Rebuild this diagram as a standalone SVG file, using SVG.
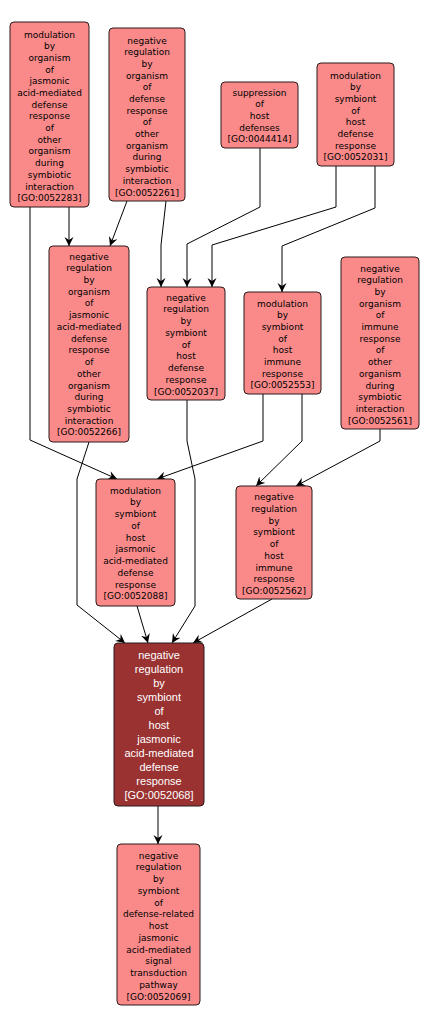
<svg xmlns="http://www.w3.org/2000/svg" width="428" height="1029" viewBox="0 0 428 1029">
<style>
.n rect{fill:#fa8a8a;stroke:#2a1a1a;stroke-width:1}
.n text{font-family:"DejaVu Sans",sans-serif;font-size:9px;fill:#000;text-anchor:middle}
.d rect{fill:#9a3232;stroke:#2a1a1a;stroke-width:1}
.d text{font-family:"Liberation Sans",Arial,sans-serif;font-size:11px;fill:#fff;text-anchor:middle}
#edges polyline{fill:none;stroke:#000;stroke-width:1;marker-end:url(#arr)}
</style>
<defs>
<marker id="arr" markerUnits="userSpaceOnUse" markerWidth="10" markerHeight="10" refX="9" refY="4.5" orient="auto">
<path d="M0,0 L9,4.5 L0,9 L3,4.5 z" fill="#000"/>
</marker>
</defs>
<rect width="428" height="1029" fill="#fff"/>
<g id="edges">
<polyline points="69,207 69,246"/>
<polyline points="30,207 30,440 117,479"/>
<polyline points="127,201 110,246"/>
<polyline points="166,201 161,245 161,287"/>
<polyline points="260,148 260,207 187,244 187,287"/>
<polyline points="336,166 336,207 212,245 212,287"/>
<polyline points="375,166 375,208 282,246 282,292"/>
<polyline points="89,442 77,479 77,605 125,643"/>
<polyline points="187,400 187,441 195,479 195,606 172,643"/>
<polyline points="263,394 263,441 157,479"/>
<polyline points="302,394 302,441 256,486"/>
<polyline points="380,429 380,441 296,486"/>
<polyline points="137,606 148,643"/>
<polyline points="272,599 193,643"/>
<polyline points="158,806 158,844"/>
</g>
<g id="GO0052283" class="n">
<rect x="10" y="22" width="79" height="185" rx="4"/>
<text y="37.5"><tspan x="49.5">modulation</tspan><tspan x="49.5" dy="11.7">by</tspan><tspan x="49.5" dy="11.7">organism</tspan><tspan x="49.5" dy="11.7">of</tspan><tspan x="49.5" dy="11.7">jasmonic</tspan><tspan x="49.5" dy="11.7">acid-mediated</tspan><tspan x="49.5" dy="11.7">defense</tspan><tspan x="49.5" dy="11.7">response</tspan><tspan x="49.5" dy="11.7">of</tspan><tspan x="49.5" dy="11.7">other</tspan><tspan x="49.5" dy="11.7">organism</tspan><tspan x="49.5" dy="11.7">during</tspan><tspan x="49.5" dy="11.7">symbiotic</tspan><tspan x="49.5" dy="11.7">interaction</tspan><tspan x="49.5" dy="11.7">[GO:0052283]</tspan></text>
</g>
<g id="GO0052261" class="n">
<rect x="109" y="28" width="76" height="173" rx="4"/>
<text y="43.5"><tspan x="147">negative</tspan><tspan x="147" dy="11.7">regulation</tspan><tspan x="147" dy="11.7">by</tspan><tspan x="147" dy="11.7">organism</tspan><tspan x="147" dy="11.7">of</tspan><tspan x="147" dy="11.7">defense</tspan><tspan x="147" dy="11.7">response</tspan><tspan x="147" dy="11.7">of</tspan><tspan x="147" dy="11.7">other</tspan><tspan x="147" dy="11.7">organism</tspan><tspan x="147" dy="11.7">during</tspan><tspan x="147" dy="11.7">symbiotic</tspan><tspan x="147" dy="11.7">interaction</tspan><tspan x="147" dy="11.7">[GO:0052261]</tspan></text>
</g>
<g id="GO0044414" class="n">
<rect x="221" y="82" width="77" height="66" rx="4"/>
<text y="95.5"><tspan x="259.5">suppression</tspan><tspan x="259.5" dy="11.7">of</tspan><tspan x="259.5" dy="11.7">host</tspan><tspan x="259.5" dy="11.7">defenses</tspan><tspan x="259.5" dy="11.7">[GO:0044414]</tspan></text>
</g>
<g id="GO0052031" class="n">
<rect x="317" y="63" width="77" height="103" rx="4"/>
<text y="78.5"><tspan x="355.5">modulation</tspan><tspan x="355.5" dy="11.7">by</tspan><tspan x="355.5" dy="11.7">symbiont</tspan><tspan x="355.5" dy="11.7">of</tspan><tspan x="355.5" dy="11.7">host</tspan><tspan x="355.5" dy="11.7">defense</tspan><tspan x="355.5" dy="11.7">response</tspan><tspan x="355.5" dy="11.7">[GO:0052031]</tspan></text>
</g>
<g id="GO0052266" class="n">
<rect x="49" y="246" width="80" height="196" rx="4"/>
<text y="259.5"><tspan x="89">negative</tspan><tspan x="89" dy="11.73">regulation</tspan><tspan x="89" dy="11.73">by</tspan><tspan x="89" dy="11.73">organism</tspan><tspan x="89" dy="11.73">of</tspan><tspan x="89" dy="11.73">jasmonic</tspan><tspan x="89" dy="11.73">acid-mediated</tspan><tspan x="89" dy="11.73">defense</tspan><tspan x="89" dy="11.73">response</tspan><tspan x="89" dy="11.73">of</tspan><tspan x="89" dy="11.73">other</tspan><tspan x="89" dy="11.73">organism</tspan><tspan x="89" dy="11.73">during</tspan><tspan x="89" dy="11.73">symbiotic</tspan><tspan x="89" dy="11.73">interaction</tspan><tspan x="89" dy="11.73">[GO:0052266]</tspan></text>
</g>
<g id="GO0052037" class="n">
<rect x="147" y="287" width="78" height="113" rx="4"/>
<text y="300.5"><tspan x="186">negative</tspan><tspan x="186" dy="11.75">regulation</tspan><tspan x="186" dy="11.75">by</tspan><tspan x="186" dy="11.75">symbiont</tspan><tspan x="186" dy="11.75">of</tspan><tspan x="186" dy="11.75">host</tspan><tspan x="186" dy="11.75">defense</tspan><tspan x="186" dy="11.75">response</tspan><tspan x="186" dy="11.75">[GO:0052037]</tspan></text>
</g>
<g id="GO0052553" class="n">
<rect x="244" y="292" width="77" height="102" rx="4"/>
<text y="306.5"><tspan x="282.5">modulation</tspan><tspan x="282.5" dy="11.7">by</tspan><tspan x="282.5" dy="11.7">symbiont</tspan><tspan x="282.5" dy="11.7">of</tspan><tspan x="282.5" dy="11.7">host</tspan><tspan x="282.5" dy="11.7">immune</tspan><tspan x="282.5" dy="11.7">response</tspan><tspan x="282.5" dy="11.7">[GO:0052553]</tspan></text>
</g>
<g id="GO0052561" class="n">
<rect x="341" y="257" width="78" height="172" rx="4"/>
<text y="271.5"><tspan x="380">negative</tspan><tspan x="380" dy="11.7">regulation</tspan><tspan x="380" dy="11.7">by</tspan><tspan x="380" dy="11.7">organism</tspan><tspan x="380" dy="11.7">of</tspan><tspan x="380" dy="11.7">immune</tspan><tspan x="380" dy="11.7">response</tspan><tspan x="380" dy="11.7">of</tspan><tspan x="380" dy="11.7">other</tspan><tspan x="380" dy="11.7">organism</tspan><tspan x="380" dy="11.7">during</tspan><tspan x="380" dy="11.7">symbiotic</tspan><tspan x="380" dy="11.7">interaction</tspan><tspan x="380" dy="11.7">[GO:0052561]</tspan></text>
</g>
<g id="GO0052562" class="n">
<rect x="236" y="486" width="76" height="113" rx="4"/>
<text y="500"><tspan x="274">negative</tspan><tspan x="274" dy="11.75">regulation</tspan><tspan x="274" dy="11.75">by</tspan><tspan x="274" dy="11.75">symbiont</tspan><tspan x="274" dy="11.75">of</tspan><tspan x="274" dy="11.75">host</tspan><tspan x="274" dy="11.75">immune</tspan><tspan x="274" dy="11.75">response</tspan><tspan x="274" dy="11.75">[GO:0052562]</tspan></text>
</g>
<g id="GO0052088" class="n">
<rect x="96" y="479" width="79" height="127" rx="4"/>
<text y="493.5"><tspan x="135.5">modulation</tspan><tspan x="135.5" dy="11.75">by</tspan><tspan x="135.5" dy="11.75">symbiont</tspan><tspan x="135.5" dy="11.75">of</tspan><tspan x="135.5" dy="11.75">host</tspan><tspan x="135.5" dy="11.75">jasmonic</tspan><tspan x="135.5" dy="11.75">acid-mediated</tspan><tspan x="135.5" dy="11.75">defense</tspan><tspan x="135.5" dy="11.75">response</tspan><tspan x="135.5" dy="11.75">[GO:0052088]</tspan></text>
</g>
<g id="GO0052068" class="d">
<rect x="114" y="643" width="90" height="163" rx="4"/>
<text y="659"><tspan x="159">negative</tspan><tspan x="159" dy="14.03">regulation</tspan><tspan x="159" dy="14.03">by</tspan><tspan x="159" dy="14.03">symbiont</tspan><tspan x="159" dy="14.03">of</tspan><tspan x="159" dy="14.03">host</tspan><tspan x="159" dy="14.03">jasmonic</tspan><tspan x="159" dy="14.03">acid-mediated</tspan><tspan x="159" dy="14.03">defense</tspan><tspan x="159" dy="14.03">response</tspan><tspan x="159" dy="14.03">[GO:0052068]</tspan></text>
</g>
<g id="GO0052069" class="n">
<rect x="117" y="844" width="83" height="161" rx="4"/>
<text y="858.5"><tspan x="158.5">negative</tspan><tspan x="158.5" dy="11.75">regulation</tspan><tspan x="158.5" dy="11.75">by</tspan><tspan x="158.5" dy="11.75">symbiont</tspan><tspan x="158.5" dy="11.75">of</tspan><tspan x="158.5" dy="11.75">defense-related</tspan><tspan x="158.5" dy="11.75">host</tspan><tspan x="158.5" dy="11.75">jasmonic</tspan><tspan x="158.5" dy="11.75">acid-mediated</tspan><tspan x="158.5" dy="11.75">signal</tspan><tspan x="158.5" dy="11.75">transduction</tspan><tspan x="158.5" dy="11.75">pathway</tspan><tspan x="158.5" dy="11.75">[GO:0052069]</tspan></text>
</g>
</svg>
